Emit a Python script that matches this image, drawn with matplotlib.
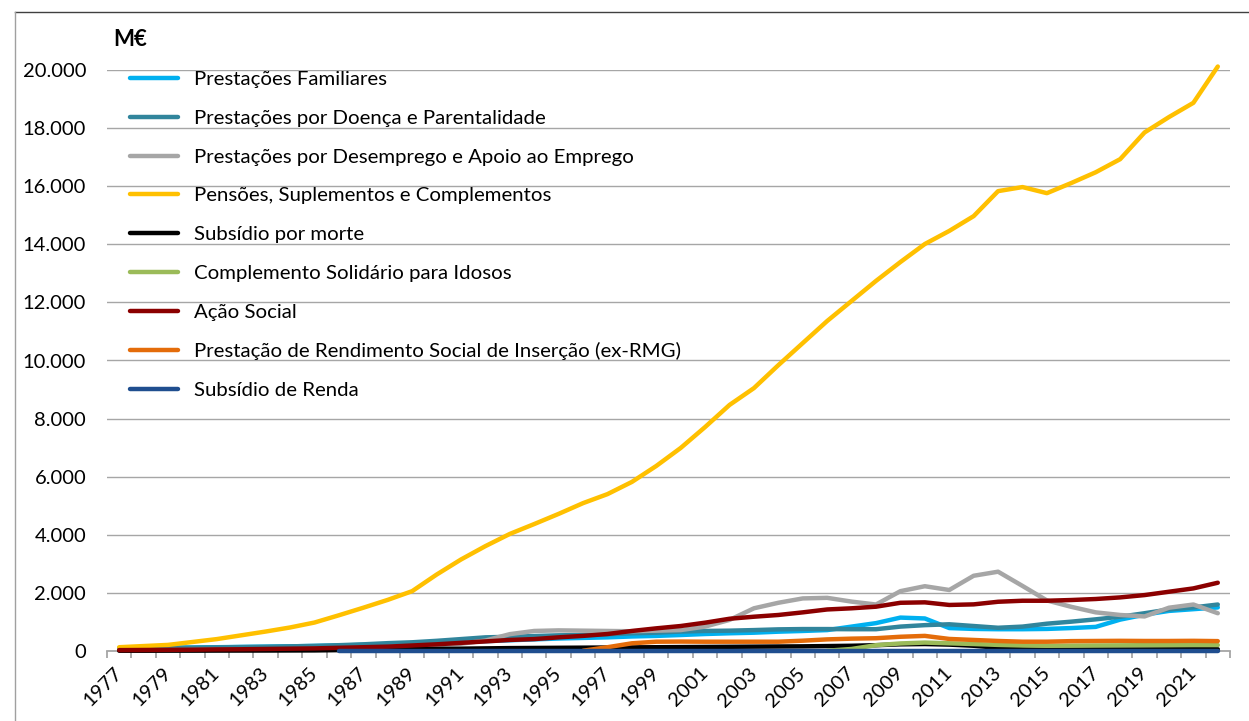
import numpy as np
import matplotlib
matplotlib.use("Agg")
import matplotlib.pyplot as plt
from matplotlib.lines import Line2D
from matplotlib.ticker import FuncFormatter, FixedLocator

plt.rcParams['font.family'] = ['Lato', 'DejaVu Sans']

nan = np.nan
years = list(range(1977, 2023))

familiares = [90, 100, 110, 120, 130, 140, 150, 160, 175, 190, 210, 230, 250, 280, 310, 340,
              370, 400, 430, 450, 470, 500, 520, 550, 585, 610, 630, 665, 690, 720, 840, 960,
              1150, 1120, 790, 760, 750, 750, 760, 790, 830, 1080, 1250, 1380, 1440, 1500]
doenca = [90, 100, 110, 115, 125, 135, 145, 160, 175, 200, 230, 270, 300, 350, 410, 470,
          490, 515, 540, 550, 575, 610, 630, 670, 690, 700, 720, 745, 755, 755, 750, 750,
          840, 890, 920, 860, 800, 840, 940, 1010, 1090, 1180, 1300, 1430, 1500, 1600]
desemprego = [20, 25, 30, 35, 40, 45, 55, 60, 70, 90, 110, 130, 160, 200, 250, 360,
              580, 690, 710, 700, 690, 680, 700, 720, 840, 1070, 1470, 1660, 1810, 1830, 1700, 1600,
              2060, 2230, 2100, 2590, 2730, 2240, 1740, 1520, 1330, 1240, 1190, 1490, 1600, 1300]
pensoes = [130, 170, 210, 310, 410, 540, 670, 810, 980, 1230, 1490, 1760, 2060, 2630, 3150, 3610,
           4030, 4370, 4720, 5090, 5400, 5820, 6370, 6990, 7710, 8470, 9050, 9840, 10600, 11360, 12050, 12740,
           13390, 14010, 14460, 14970, 15830, 15970, 15760, 16110, 16480, 16930, 17850, 18380, 18870, 20120]
morte = [10, 10, 12, 12, 14, 15, 16, 18, 20, 30, 40, 50, 60, 70, 80, 90,
         100, 105, 110, 115, 120, 125, 130, 135, 140, 145, 150, 155, 160, 170, 180, 200,
         230, 240, 220, 180, 110, 60, 50, 50, 55, 55, 55, 60, 60, 60]
csi = [nan, nan, nan, nan, nan, nan, nan, nan, nan, nan, nan, nan, nan, nan, nan, nan,
       nan, nan, nan, nan, nan, nan, nan, nan, nan, nan, nan, nan, nan, 10, 70, 200,
       260, 290, 265, 240, 210, 190, 180, 185, 190, 195, 200, 200, 205, 205]
acao_social = [30, 35, 40, 45, 55, 60, 70, 80, 90, 110, 130, 150, 190, 230, 280, 330,
               380, 410, 470, 520, 585, 690, 780, 860, 975, 1110, 1180, 1240, 1330, 1430, 1470, 1525,
               1660, 1675, 1585, 1605, 1695, 1730, 1730, 1755, 1790, 1845, 1925, 2040, 2155, 2350]
rsi = [nan, nan, nan, nan, nan, nan, nan, nan, nan, nan, nan, nan, nan, nan, nan, nan,
       nan, nan, nan, 10, 130, 265, 320, 325, 320, 320, 320, 320, 355, 400, 425, 440,
       490, 520, 415, 380, 345, 320, 320, 340, 345, 350, 345, 345, 350, 340]
renda = [nan, nan, nan, nan, nan, nan, nan, nan, nan, 15, 15, 15, 15, 15, 15, 15,
         15, 15, 15, 15, 15, 15, 15, 15, 15, 15, 15, 15, 15, 15, 15, 15,
         15, 15, 15, 15, 15, 15, 15, 15, 15, 15, 15, 15, 15, 15]

labels = ["Prestações Familiares",
          "Prestações por Doença e Parentalidade",
          "Prestações por Desemprego e Apoio ao Emprego",
          "Pensões, Suplementos e Complementos",
          "Subsídio por morte",
          "Complemento Solidário para Idosos",
          "Ação Social",
          "Prestação de Rendimento Social de Inserção (ex-RMG)",
          "Subsídio de Renda"]
series = [familiares, doenca, desemprego, pensoes, morte, csi, acao_social, rsi, renda]
colors = ["#00B0F0", "#31859C", "#A6A6A6", "#FFC000", "#000000",
          "#9BBB59", "#8B0000", "#E46C0A", "#1F4E8F"]

W, H = 1249, 721
fig = plt.figure(figsize=(W / 100, H / 100), dpi=100)
L, R, B, T = 107, 1230, 651, 70
ax = fig.add_axes([L / W, 1 - B / H, (R - L) / W, (B - T) / H])

x = np.arange(len(years))
for s, c, lab in zip(series, colors, labels):
    ax.plot(x, s, color=c, lw=3.2, label=lab, solid_capstyle='round',
            solid_joinstyle='round', clip_on=False)

ax.set_xlim(-0.5, len(years) - 0.5)
ax.set_ylim(0, 20000)
ax.set_yticks(np.arange(0, 20001, 2000))
ax.yaxis.set_major_formatter(FuncFormatter(lambda v, p: f"{int(v):,}".replace(",", ".")))
ax.grid(axis='y', color='#A6A6A6', lw=1.0)
ax.set_axisbelow(True)
for sp in ['left', 'right', 'top']:
    ax.spines[sp].set_visible(False)
ax.spines['bottom'].set_color('#A6A6A6')
ax.spines['bottom'].set_linewidth(1.3)
ax.spines['bottom'].set_zorder(1)
ax.tick_params(axis='y', length=0, pad=15, labelsize=14.5, labelcolor='black')

ax.set_xticks(x[::2])
ax.set_xticklabels([str(y) for y in years[::2]], rotation=45, ha='right', va='center',
                   rotation_mode='anchor', fontsize=14.5)
ax.tick_params(axis='x', which='major', length=0, pad=14)
ax.xaxis.set_minor_locator(FixedLocator(np.arange(-0.5, len(years), 1.0)))
ax.tick_params(axis='x', which='minor', length=5, width=1.3, color='#A6A6A6', direction='out')

fig.text(113 / W, 1 - 40 / H, "M€", fontsize=16, fontweight='bold', va='center', ha='left')

leg = ax.legend(loc='upper left', bbox_to_anchor=(130 / W, 1 - 71 / H),
                bbox_transform=fig.transFigure, frameon=False, fontsize=14.7,
                handlelength=2.35, handletextpad=0.78, labelspacing=1.05,
                borderpad=0, borderaxespad=0)
for ln in leg.get_lines():
    ln.set_linewidth(3.2)

fig.add_artist(Line2D([15 / W, 1], [1 - 12 / H, 1 - 12 / H], transform=fig.transFigure,
                      color='#404040', lw=1.0))
fig.add_artist(Line2D([15 / W, 15 / W], [0, 1 - 12 / H], transform=fig.transFigure,
                      color='#A0A0A0', lw=1.0))

fig.savefig("out.png", dpi=100)
